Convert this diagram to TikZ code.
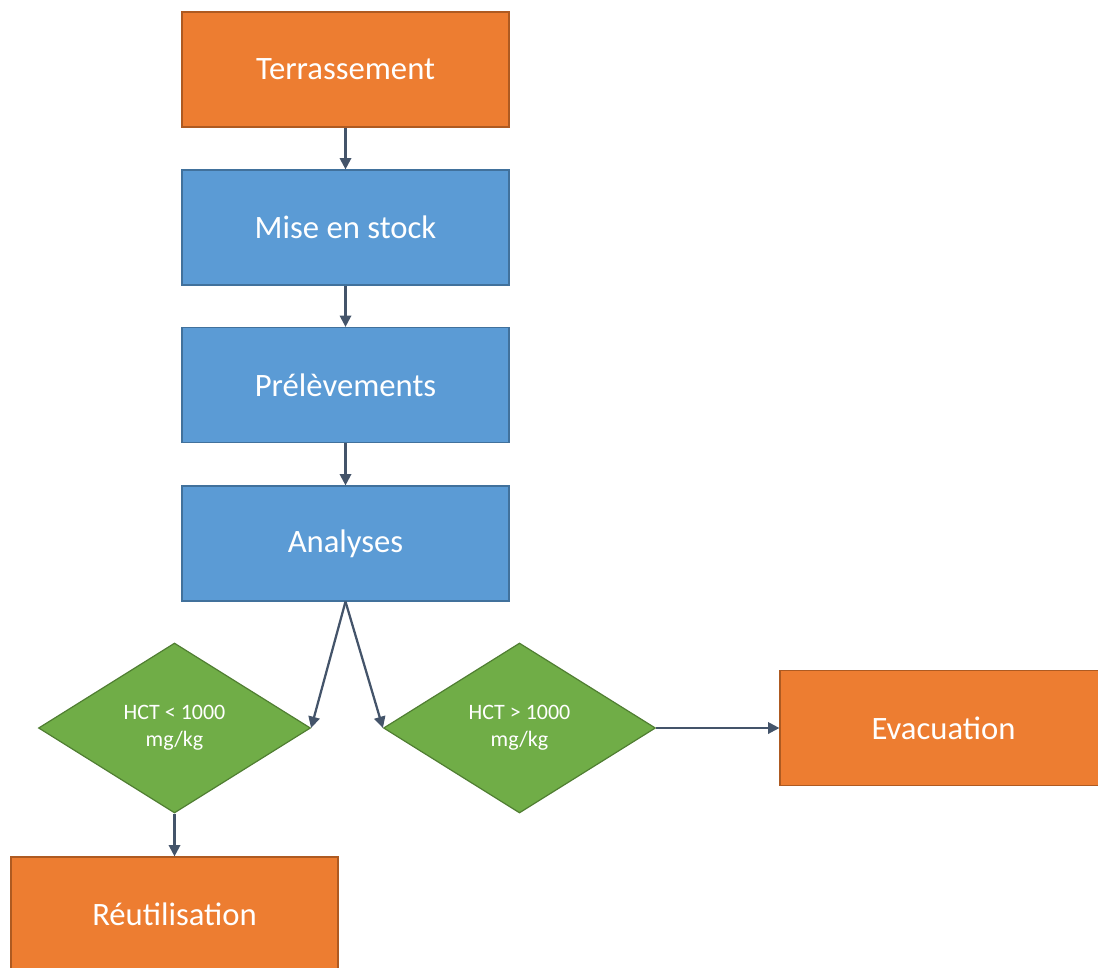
\documentclass[tikz,border=0pt]{standalone}
\usepackage{fontspec}
\setmainfont{Carlito}
\usetikzlibrary{shapes.geometric,arrows.meta}
\definecolor{orangeF}{HTML}{ED7D31}
\definecolor{orangeD}{HTML}{AE5A21}
\definecolor{blueF}{HTML}{5B9BD5}
\definecolor{blueD}{HTML}{41719C}
\definecolor{greenF}{HTML}{70AD47}
\definecolor{greenD}{HTML}{507E32}
\definecolor{arrowC}{HTML}{44546A}
\tikzset{
  boxbase/.style={rectangle, minimum width=327*0.75pt, minimum height=115*0.75pt, inner sep=0pt, line width=0.9pt, text=white, font=\fontsize{24.5}{29}\selectfont},
  orangebox/.style={boxbase, fill=orangeF, draw=orangeD},
  bluebox/.style={boxbase, fill=blueF, draw=blueD},
  decision/.style={diamond, minimum width=272*0.75pt, minimum height=170*0.75pt, inner sep=0pt, fill=greenF, draw=greenD, line width=0.9pt, text=white, align=center, font=\fontsize{16.5}{20}\selectfont, shape aspect=1.6},
  link/.style={draw=arrowC, line width=1.7pt, -{Triangle[length=8.5pt,width=8.5pt]}}
}
\begin{document}
\begin{tikzpicture}[x=0.75pt,y=-0.75pt]
\useasboundingbox (0,0) rectangle (1098,967);
\node[orangebox] (terr) at (345.5,69.5) {Terrassement};
\node[bluebox] (stock) at (345.5,227.5) {Mise en stock};
\node[bluebox] (prel) at (345.5,385) {Prélèvements};
\node[bluebox] (anal) at (345.5,543.5) {Analyses};
\node[decision] (dl) at (174.5,728) {HCT < 1000\\mg/kg};
\node[decision] (dr) at (519.5,728) {HCT > 1000\\mg/kg};
\node[orangebox] (evac) at (943.5,728) {Evacuation};
\node[orangebox] (reut) at (174.5,914.5) {Réutilisation};
\draw[link] (terr.south) -- (stock.north);
\draw[link] (stock.south) -- (prel.north);
\draw[link] (prel.south) -- (anal.north);
\draw[link] (anal.south) -- (dl.east);
\draw[link] (anal.south) -- (dr.west);
\draw[link] (dl.south) -- (reut.north);
\draw[link] (dr.east) -- (evac.west);
\end{tikzpicture}
\end{document}
